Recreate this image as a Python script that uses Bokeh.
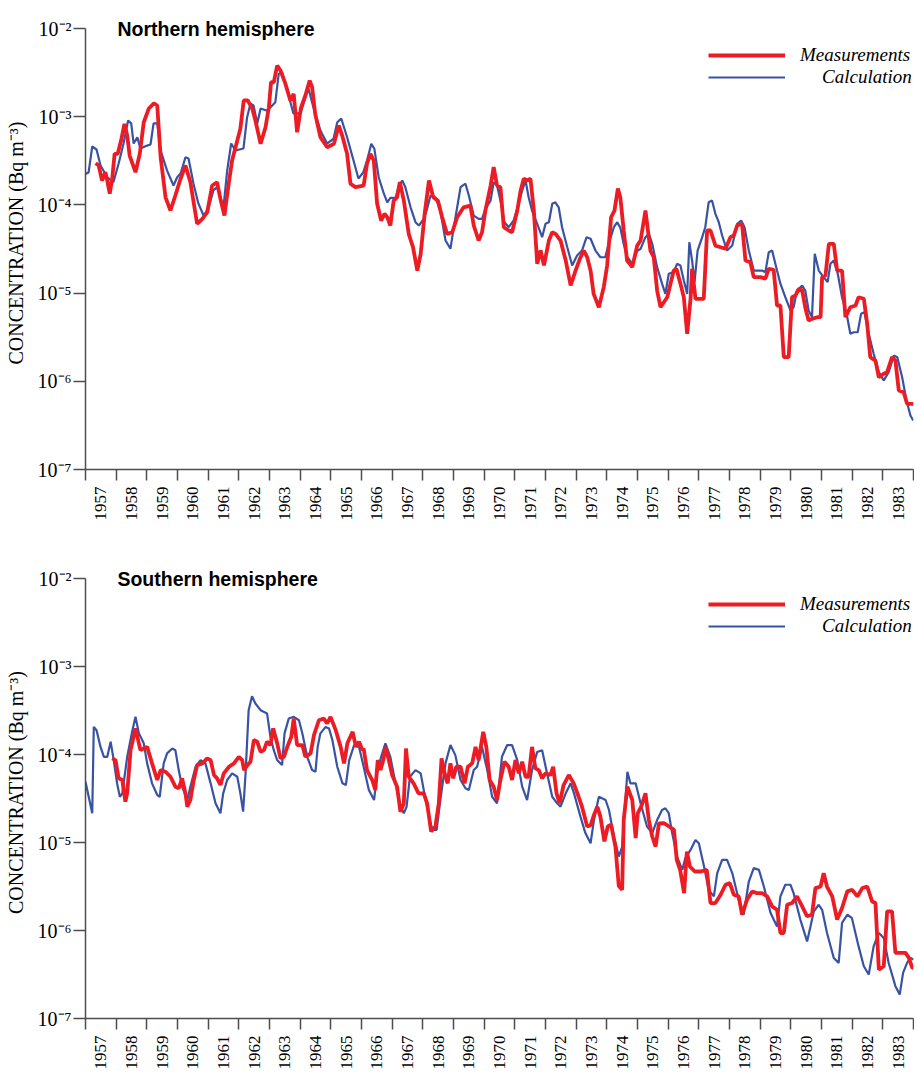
import math
from bokeh.plotting import figure
from bokeh.models import Range1d, FixedTicker, Label, Legend, LegendItem
from bokeh.layouts import column
from bokeh.embed import file_html
from bokeh.resources import INLINE

# ---------------- data ----------------
year_labels = ["1957", "1958", "1959", "1960", "1961", "1962", "1963", "1964", "1965",
               "1966", "1967", "1968", "1969", "1970", "1971", "1972", "1973", "1974",
               "1975", "1976", "1977", "1978", "1979", "1980", "1981", "1982", "1983"]
decade_ticks = [1e-7, 1e-6, 1e-5, 1e-4, 1e-3, 1e-2]
decade_labels = ["10\u207b\u2077", "10\u207b\u2076", "10\u207b\u2075", "10\u207b\u2074",
                 "10\u207b\u00b3", "10\u207b\u00b2"]

series_names = ["Measurements", "Calculation"]
panel_titles = ["Northern  hemisphere", "Southern  hemisphere"]

# Northern hemisphere - calculation
nh_calc_year = [1957.00, 1957.10, 1957.22, 1957.36, 1957.49, 1957.71, 1957.91, 1958.08, 1958.24, 1958.39,
                1958.49, 1958.57, 1958.69, 1958.79, 1959.01, 1959.12, 1959.22, 1959.34, 1959.45, 1959.66,
                1959.87, 1959.99, 1960.10, 1960.26, 1960.36, 1960.52, 1960.68, 1960.85, 1961.01, 1961.17,
                1961.29, 1961.40, 1961.50, 1961.62, 1961.75, 1961.89, 1962.15, 1962.27, 1962.38, 1962.48,
                1962.60, 1962.71, 1962.92, 1963.09, 1963.19, 1963.30, 1963.41, 1963.58, 1963.78, 1964.01,
                1964.17, 1964.27, 1964.43, 1964.66, 1964.88, 1965.09, 1965.21, 1965.34, 1965.53, 1965.74,
                1965.90, 1966.06, 1966.18, 1966.32, 1966.42, 1966.56, 1966.73, 1966.84, 1966.94, 1967.11,
                1967.22, 1967.33, 1967.43, 1967.60, 1967.76, 1967.87, 1968.03, 1968.14, 1968.25, 1968.41,
                1968.57, 1968.74, 1968.90, 1969.01, 1969.12, 1969.23, 1969.39, 1969.50, 1969.66, 1969.82,
                1969.93, 1970.04, 1970.21, 1970.31, 1970.42, 1970.53, 1970.66, 1970.80, 1970.96, 1971.08,
                1971.24, 1971.35, 1971.45, 1971.56, 1971.73, 1971.89, 1972.00, 1972.11, 1972.22, 1972.32,
                1972.43, 1972.54, 1972.71, 1972.87, 1973.03, 1973.19, 1973.34, 1973.47, 1973.63, 1973.79,
                1973.95, 1974.06, 1974.23, 1974.34, 1974.44, 1974.55, 1974.66, 1974.83, 1974.99, 1975.10,
                1975.26, 1975.37, 1975.48, 1975.64, 1975.80, 1975.91, 1976.02, 1976.18, 1976.29, 1976.40,
                1976.51, 1976.62, 1976.69, 1976.78, 1976.86, 1976.96, 1977.11, 1977.21, 1977.32, 1977.43,
                1977.54, 1977.65, 1977.76, 1977.92, 1978.09, 1978.25, 1978.38, 1978.49, 1978.63, 1978.79,
                1978.90, 1979.06, 1979.17, 1979.28, 1979.39, 1979.55, 1979.66, 1979.82, 1979.99, 1980.09,
                1980.20, 1980.37, 1980.47, 1980.58, 1980.69, 1980.78, 1980.91, 1981.07, 1981.20, 1981.29,
                1981.40, 1981.53, 1981.67, 1981.84, 1981.94, 1982.05, 1982.18, 1982.29, 1982.40, 1982.54,
                1982.70, 1982.87, 1983.03, 1983.19, 1983.36, 1983.47, 1983.63, 1983.77, 1983.90, 1983.99]
nh_calc = [2.25e-4, 2.33e-4, 4.6e-4, 4.25e-4, 2.8e-4, 2.06e-4, 1.81e-4, 2.95e-4, 4.97e-4, 9.06e-4,
           8.4e-4, 4.97e-4, 5.86e-4, 4.36e-4, 4.71e-4, 4.84e-4, 8.4e-4, 8.44e-4, 4.14e-4, 2.45e-4,
           1.66e-4, 2.06e-4, 2.27e-4, 3.47e-4, 3.36e-4, 1.75e-4, 1.04e-4, 7.58e-5, 9.1e-5, 1.46e-4,
           1.59e-4, 1.22e-4, 9.4e-5, 2.45e-4, 4.97e-4, 4.14e-4, 4.36e-4, 9.87e-4, 1.41e-3, 1.34e-3,
           8.4e-4, 1.24e-3, 1.17e-3, 1.34e-3, 1.46e-3, 3.06e-3, 3.2e-3, 1.98e-3, 1.09e-3, 1.09e-3,
           1.66e-3, 2.09e-3, 1.28e-3, 6.98e-4, 4.97e-4, 5.66e-4, 8.67e-4, 9.54e-4, 5.86e-4, 3.19e-4,
           1.99e-4, 2.35e-4, 3.19e-4, 4.93e-4, 4.33e-4, 2.06e-4, 1.34e-4, 1.07e-4, 1.2e-4, 1.2e-4,
           1.66e-4, 1.89e-4, 1.59e-4, 9.4e-5, 6.37e-5, 5.84e-5, 6.96e-5, 9.03e-5, 1.28e-4, 1.22e-4,
           8.64e-5, 3.95e-5, 3.18e-5, 5.59e-5, 9.4e-5, 1.59e-4, 1.74e-4, 1.28e-4, 7.58e-5, 6.96e-5,
           6.96e-5, 9.03e-5, 1.12e-4, 1.81e-4, 1.66e-4, 1.12e-4, 6.37e-5, 5.59e-5, 6.65e-5, 9.03e-5,
           1.46e-4, 1.89e-4, 1.22e-4, 8.64e-5, 6.11e-5, 4.31e-5, 6.11e-5, 6.37e-5, 1.03e-4, 1.07e-4,
           9.4e-5, 5.59e-5, 3.31e-5, 2.06e-5, 2.67e-5, 3.04e-5, 4.31e-5, 4.13e-5, 3.04e-5, 2.55e-5,
           2.55e-5, 3.62e-5, 5.59e-5, 6.37e-5, 5.5e-5, 3.6e-5, 2.6e-5, 2.15e-5, 3.0e-5, 3.18e-5,
           4.31e-5, 4.7e-5, 3.62e-5, 1.97e-5, 1.28e-5, 9.8e-6, 1.66e-5, 1.73e-5, 2.15e-5, 2.06e-5,
           1.39e-5, 9.8e-6, 3.78e-5, 2.34e-5, 1.33e-5, 3.04e-5, 4.31e-5, 5.59e-5, 1.07e-4, 1.12e-4,
           7.93e-5, 6.37e-5, 4.5e-5, 3.04e-5, 3.46e-5, 6.11e-5, 6.65e-5, 5.59e-5, 3.04e-5, 1.8e-5,
           1.8e-5, 1.8e-5, 1.73e-5, 2.91e-5, 3.04e-5, 1.8e-5, 1.28e-5, 8.99e-6, 6.35e-6, 6.92e-6,
           1.07e-5, 1.22e-5, 1.07e-5, 6.35e-6, 5.33e-6, 2.79e-5, 1.8e-5, 1.52e-5, 1.33e-5, 2.15e-5,
           2.34e-5, 1.66e-5, 8.99e-6, 5.33e-6, 3.46e-6, 3.6e-6, 3.6e-6, 5.82e-6, 6.07e-6, 3.46e-6,
           2.05e-6, 1.27e-6, 1.02e-6, 1.27e-6, 1.96e-6, 1.88e-6, 1.11e-6, 6.06e-7, 4.1e-7, 3.59e-7]

# Northern hemisphere - measurements
nh_meas_year = [1957.33, 1957.43, 1957.54, 1957.65, 1957.71, 1957.79, 1957.87, 1957.95, 1958.05, 1958.16,
                1958.27, 1958.36, 1958.44, 1958.63, 1958.77, 1958.90, 1959.06, 1959.23, 1959.34, 1959.45,
                1959.61, 1959.77, 1959.93, 1960.10, 1960.26, 1960.42, 1960.64, 1960.81, 1960.97, 1961.13,
                1961.29, 1961.40, 1961.53, 1961.67, 1961.78, 1961.95, 1962.05, 1962.16, 1962.29, 1962.44,
                1962.54, 1962.71, 1962.87, 1962.98, 1963.05, 1963.14, 1963.25, 1963.36, 1963.52, 1963.68,
                1963.79, 1963.90, 1964.03, 1964.17, 1964.31, 1964.39, 1964.49, 1964.66, 1964.88, 1965.10,
                1965.26, 1965.37, 1965.53, 1965.64, 1965.80, 1966.07, 1966.18, 1966.29, 1966.40, 1966.51,
                1966.64, 1966.75, 1966.84, 1966.94, 1967.05, 1967.16, 1967.25, 1967.38, 1967.54, 1967.68,
                1967.82, 1967.93, 1968.06, 1968.20, 1968.34, 1968.49, 1968.63, 1968.79, 1968.96, 1969.12,
                1969.33, 1969.55, 1969.66, 1969.82, 1969.93, 1970.04, 1970.21, 1970.31, 1970.42, 1970.53,
                1970.64, 1970.80, 1970.91, 1971.08, 1971.19, 1971.29, 1971.40, 1971.51, 1971.62, 1971.73,
                1971.84, 1971.95, 1972.11, 1972.22, 1972.33, 1972.49, 1972.66, 1972.82, 1972.98, 1973.12,
                1973.25, 1973.36, 1973.47, 1973.57, 1973.74, 1973.90, 1974.01, 1974.14, 1974.25, 1974.36,
                1974.44, 1974.55, 1974.66, 1974.83, 1974.99, 1975.10, 1975.26, 1975.42, 1975.53, 1975.64,
                1975.75, 1975.97, 1976.18, 1976.27, 1976.40, 1976.51, 1976.62, 1976.73, 1976.78, 1976.89,
                1977.00, 1977.16, 1977.27, 1977.38, 1977.54, 1977.71, 1977.87, 1978.03, 1978.14, 1978.25,
                1978.41, 1978.52, 1978.68, 1978.79, 1979.01, 1979.17, 1979.28, 1979.44, 1979.55, 1979.66,
                1979.77, 1979.93, 1980.04, 1980.15, 1980.26, 1980.37, 1980.48, 1980.58, 1980.69, 1980.86,
                1980.97, 1981.02, 1981.13, 1981.24, 1981.40, 1981.51, 1981.67, 1981.78, 1981.94, 1982.11,
                1982.21, 1982.38, 1982.49, 1982.59, 1982.76, 1982.87, 1983.03, 1983.14, 1983.30, 1983.41,
                1983.52, 1983.68, 1983.79, 1984.00]
nh_meas = [2.97e-4, 2.8e-4, 1.89e-4, 2.35e-4, 1.89e-4, 1.34e-4, 1.98e-4, 3.8e-4, 3.8e-4, 5.37e-4,
           8.31e-4, 6.12e-4, 3.63e-4, 2.35e-4, 3.8e-4, 8.66e-4, 1.23e-3, 1.42e-3, 1.34e-3, 3.48e-4,
           1.22e-4, 8.64e-5, 1.28e-4, 1.98e-4, 2.8e-4, 1.81e-4, 6.11e-5, 6.96e-5, 8.27e-5, 1.66e-4,
           1.81e-4, 1.17e-4, 7.58e-5, 1.74e-4, 3.19e-4, 5.37e-4, 7.29e-4, 1.53e-3, 1.53e-3, 1.23e-3,
           9.06e-4, 4.93e-4, 7.6e-4, 1.28e-3, 2.46e-3, 2.46e-3, 3.81e-3, 3.34e-3, 2.36e-3, 1.53e-3,
           1.82e-3, 6.67e-4, 1.28e-3, 1.74e-3, 2.57e-3, 2.16e-3, 1.08e-3, 5.86e-4, 4.51e-4, 4.93e-4,
           7.95e-4, 6.12e-4, 3.8e-4, 1.74e-4, 1.59e-4, 1.66e-4, 2.93e-4, 3.8e-4, 3.19e-4, 1.03e-4,
           6.65e-5, 7.93e-5, 7.26e-5, 5.84e-5, 1.12e-4, 1.22e-4, 1.81e-4, 1.12e-4, 4.7e-5, 3.31e-5,
           1.8e-5, 2.79e-5, 7.93e-5, 1.89e-4, 1.22e-4, 1.12e-4, 7.26e-5, 4.7e-5, 4.9e-5, 7.26e-5,
           9.4e-5, 9.84e-5, 5.84e-5, 3.95e-5, 4.9e-5, 8.64e-5, 1.66e-4, 2.68e-4, 1.66e-4, 1.59e-4,
           5.59e-5, 5.13e-5, 4.9e-5, 8.64e-5, 1.46e-4, 1.98e-4, 1.89e-4, 1.98e-4, 8.64e-5, 2.15e-5,
           3.04e-5, 2.06e-5, 3.95e-5, 4.9e-5, 4.7e-5, 3.95e-5, 2.34e-5, 1.22e-5, 1.8e-5, 2.45e-5,
           3.04e-5, 2.55e-5, 1.8e-5, 9.8e-6, 6.92e-6, 1.17e-5, 2.06e-5, 7.26e-5, 8.64e-5, 1.53e-4,
           1.22e-4, 5.13e-5, 2.34e-5, 1.97e-5, 3.46e-5, 3.95e-5, 8.64e-5, 3.04e-5, 2.55e-5, 1.07e-5,
           6.92e-6, 8.99e-6, 1.8e-5, 1.89e-5, 1.28e-5, 8.99e-6, 3.46e-6, 8.62e-6, 1.89e-5, 8.62e-6,
           8.62e-6, 8.62e-6, 5.13e-5, 5.13e-5, 3.46e-5, 3.31e-5, 3.18e-5, 4.31e-5, 4.5e-5, 5.84e-5,
           6.11e-5, 2.34e-5, 2.25e-5, 1.52e-5, 1.52e-5, 1.46e-5, 1.89e-5, 1.84e-5, 7.24e-6, 7.24e-6,
           1.88e-6, 1.88e-6, 8.99e-6, 9.39e-6, 1.12e-5, 1.07e-5, 6.64e-6, 4.89e-6, 5.11e-6, 5.33e-6,
           5.33e-6, 1.52e-5, 1.59e-5, 3.62e-5, 3.62e-5, 1.8e-5, 1.8e-5, 5.33e-6, 6.92e-6, 7.24e-6,
           8.99e-6, 8.62e-6, 4.49e-6, 1.88e-6, 1.72e-6, 1.11e-6, 1.22e-6, 1.27e-6, 1.88e-6, 1.72e-6,
           7.87e-7, 7.52e-7, 5.56e-7, 5.56e-7]

# Southern hemisphere - calculation
sh_calc_year = [1957.00, 1957.22, 1957.27, 1957.36, 1957.49, 1957.60, 1957.71, 1957.82, 1957.92, 1958.03,
                1958.12, 1958.20, 1958.36, 1958.52, 1958.63, 1958.74, 1958.90, 1959.01, 1959.17, 1959.34,
                1959.42, 1959.55, 1959.66, 1959.83, 1959.93, 1960.04, 1960.15, 1960.32, 1960.42, 1960.59,
                1960.75, 1960.91, 1961.08, 1961.24, 1961.40, 1961.49, 1961.62, 1961.78, 1961.95, 1962.05,
                1962.14, 1962.22, 1962.32, 1962.43, 1962.54, 1962.71, 1962.92, 1963.03, 1963.14, 1963.25,
                1963.41, 1963.49, 1963.63, 1963.79, 1963.96, 1964.07, 1964.23, 1964.39, 1964.50, 1964.57,
                1964.66, 1964.83, 1964.94, 1965.05, 1965.21, 1965.38, 1965.49, 1965.60, 1965.76, 1965.92,
                1966.07, 1966.24, 1966.41, 1966.51, 1966.64, 1966.78, 1966.94, 1967.11, 1967.27, 1967.38,
                1967.47, 1967.58, 1967.76, 1967.93, 1968.03, 1968.20, 1968.31, 1968.45, 1968.57, 1968.74,
                1968.90, 1969.06, 1969.23, 1969.39, 1969.50, 1969.66, 1969.77, 1969.93, 1970.10, 1970.26,
                1970.42, 1970.58, 1970.75, 1970.91, 1971.08, 1971.24, 1971.40, 1971.56, 1971.73, 1971.89,
                1972.05, 1972.22, 1972.38, 1972.49, 1972.66, 1972.82, 1972.93, 1973.14, 1973.30, 1973.47,
                1973.58, 1973.74, 1973.96, 1974.07, 1974.23, 1974.39, 1974.50, 1974.67, 1974.77, 1974.94,
                1975.10, 1975.31, 1975.48, 1975.64, 1975.80, 1975.91, 1976.02, 1976.13, 1976.29, 1976.46,
                1976.56, 1976.73, 1976.89, 1977.00, 1977.17, 1977.32, 1977.49, 1977.60, 1977.76, 1977.92,
                1978.09, 1978.30, 1978.46, 1978.63, 1978.79, 1978.96, 1979.12, 1979.34, 1979.55, 1979.66,
                1979.82, 1979.99, 1980.09, 1980.31, 1980.53, 1980.64, 1980.75, 1980.91, 1981.02, 1981.18,
                1981.40, 1981.56, 1981.67, 1981.84, 1981.99, 1982.21, 1982.38, 1982.54, 1982.70, 1982.87,
                1983.03, 1983.19, 1983.41, 1983.55, 1983.66, 1983.79, 1983.90, 1984.00]
sh_calc = [4.9e-5, 2.15e-5, 2.06e-4, 1.89e-4, 1.22e-4, 9.42e-5, 9.42e-5, 1.4e-4, 8.64e-5, 4.7e-5,
           3.31e-5, 3.62e-5, 9.42e-5, 1.81e-4, 2.68e-4, 1.74e-4, 1.34e-4, 7.93e-5, 4.7e-5, 3.46e-5,
           3.31e-5, 7.93e-5, 1.03e-4, 1.17e-4, 1.12e-4, 6.65e-5, 4.31e-5, 3.04e-5, 4.31e-5, 7.26e-5,
           8.64e-5, 7.93e-5, 4.7e-5, 2.79e-5, 2.15e-5, 3.62e-5, 5.13e-5, 6.11e-5, 5.59e-5, 3.62e-5,
           2.24e-5, 6.11e-5, 3.19e-4, 4.59e-4, 3.8e-4, 3.19e-4, 2.93e-4, 1.59e-4, 1.12e-4, 8.64e-5,
           7.58e-5, 1.74e-4, 2.57e-4, 2.68e-4, 2.45e-4, 1.74e-4, 9.42e-5, 6.65e-5, 6.37e-5, 1.22e-4,
           1.74e-4, 2.06e-4, 1.98e-4, 1.46e-4, 7.26e-5, 4.7e-5, 4.5e-5, 8.64e-5, 1.28e-4, 1.22e-4,
           7.26e-5, 3.95e-5, 3.04e-5, 6.11e-5, 9.42e-5, 1.34e-4, 9.42e-5, 4.7e-5, 2.55e-5, 2.15e-5,
           2.55e-5, 5.59e-5, 6.65e-5, 6.11e-5, 3.95e-5, 1.97e-5, 1.39e-5, 1.39e-5, 3.04e-5, 7.93e-5,
           1.28e-4, 9.84e-5, 5.13e-5, 4.13e-5, 3.95e-5, 6.65e-5, 7.26e-5, 1.22e-4, 6.65e-5, 3.31e-5,
           2.79e-5, 9.42e-5, 1.28e-4, 1.28e-4, 8.64e-5, 4.31e-5, 3.04e-5, 6.65e-5, 1.07e-4, 1.12e-4,
           6.11e-5, 3.31e-5, 2.79e-5, 2.55e-5, 3.62e-5, 4.7e-5, 3.62e-5, 1.97e-5, 1.28e-5, 9.8e-6,
           1.8e-5, 3.31e-5, 3.04e-5, 2.34e-5, 1.17e-5, 6.92e-6, 8.99e-6, 6.37e-5, 4.7e-5, 4.7e-5,
           2.79e-5, 1.52e-5, 1.28e-5, 1.8e-5, 2.34e-5, 2.45e-5, 2.15e-5, 1.28e-5, 6.92e-6, 4.89e-6,
           6.64e-6, 8.24e-6, 1.07e-5, 9.8e-6, 5.33e-6, 2.9e-6, 2.44e-6, 4.49e-6, 6.35e-6, 6.35e-6,
           4.49e-6, 2.23e-6, 1.51e-6, 3.6e-6, 5.11e-6, 4.89e-6, 3.16e-6, 1.58e-6, 1.11e-6, 2.44e-6,
           3.31e-6, 3.31e-6, 2.66e-6, 1.33e-6, 7.52e-7, 1.11e-6, 1.65e-6, 1.96e-6, 1.72e-6, 9.37e-7,
           4.88e-7, 4.28e-7, 1.22e-6, 1.51e-6, 1.39e-6, 6.6e-7, 3.92e-7, 3.16e-7, 6.6e-7, 9.37e-7,
           8.22e-7, 4.28e-7, 2.33e-7, 1.87e-7, 3.3e-7, 4.28e-7, 4.88e-7, 4.67e-7]

# Southern hemisphere - measurements
sh_meas_year = [1957.87, 1957.98, 1958.08, 1958.20, 1958.30, 1958.36, 1958.47, 1958.63, 1958.79, 1958.90,
                1959.01, 1959.17, 1959.34, 1959.45, 1959.61, 1959.77, 1959.93, 1960.04, 1960.15, 1960.26,
                1960.32, 1960.42, 1960.53, 1960.64, 1960.81, 1960.97, 1961.08, 1961.19, 1961.29, 1961.40,
                1961.51, 1961.68, 1961.84, 1962.00, 1962.11, 1962.17, 1962.28, 1962.38, 1962.49, 1962.60,
                1962.71, 1962.82, 1962.92, 1963.03, 1963.12, 1963.25, 1963.36, 1963.47, 1963.58, 1963.71,
                1963.79, 1963.90, 1964.07, 1964.17, 1964.34, 1964.45, 1964.61, 1964.77, 1964.88, 1964.99,
                1965.16, 1965.32, 1965.43, 1965.54, 1965.71, 1965.82, 1965.92, 1966.03, 1966.07, 1966.18,
                1966.35, 1966.45, 1966.53, 1966.62, 1966.71, 1966.78, 1966.89, 1967.00, 1967.16, 1967.27,
                1967.38, 1967.45, 1967.54, 1967.70, 1967.86, 1968.03, 1968.14, 1968.27, 1968.41, 1968.52,
                1968.61, 1968.71, 1968.81, 1968.90, 1968.99, 1969.09, 1969.23, 1969.36, 1969.47, 1969.61,
                1969.72, 1969.82, 1969.97, 1970.07, 1970.18, 1970.31, 1970.42, 1970.53, 1970.66, 1970.80,
                1970.91, 1971.02, 1971.13, 1971.24, 1971.35, 1971.45, 1971.56, 1971.67, 1971.78, 1971.89,
                1972.00, 1972.16, 1972.25, 1972.36, 1972.46, 1972.59, 1972.76, 1972.92, 1973.08, 1973.19,
                1973.36, 1973.47, 1973.58, 1973.69, 1973.79, 1973.92, 1974.03, 1974.14, 1974.28, 1974.39,
                1974.50, 1974.55, 1974.67, 1974.83, 1974.94, 1975.01, 1975.12, 1975.26, 1975.37, 1975.48,
                1975.59, 1975.70, 1975.86, 1976.03, 1976.19, 1976.28, 1976.39, 1976.52, 1976.61, 1976.71,
                1976.87, 1977.06, 1977.26, 1977.38, 1977.54, 1977.71, 1977.87, 1978.01, 1978.14, 1978.30,
                1978.41, 1978.57, 1978.74, 1978.90, 1979.06, 1979.23, 1979.39, 1979.55, 1979.66, 1979.77,
                1979.88, 1980.04, 1980.20, 1980.37, 1980.53, 1980.69, 1980.80, 1980.97, 1981.07, 1981.18,
                1981.35, 1981.51, 1981.67, 1981.84, 1982.00, 1982.17, 1982.33, 1982.49, 1982.65, 1982.76,
                1982.87, 1983.03, 1983.14, 1983.30, 1983.41, 1983.58, 1983.74, 1983.85, 1983.96, 1984.00]
sh_meas = [9.03e-5, 8.64e-5, 5.36e-5, 5.13e-5, 2.91e-5, 3.62e-5, 1.12e-4, 1.98e-4, 1.12e-4, 1.17e-4,
           1.22e-4, 7.93e-5, 5.13e-5, 6.65e-5, 6.37e-5, 5.59e-5, 4.31e-5, 4.13e-5, 5.36e-5, 3.62e-5,
           2.55e-5, 3.04e-5, 5.13e-5, 7.58e-5, 7.93e-5, 9.03e-5, 8.64e-5, 5.84e-5, 5.36e-5, 4.5e-5,
           6.11e-5, 7.26e-5, 7.93e-5, 9.42e-5, 8.64e-5, 6.65e-5, 7.58e-5, 8.27e-5, 1.46e-4, 1.4e-4,
           1.07e-4, 1.12e-4, 1.4e-4, 1.28e-4, 1.98e-4, 1.34e-4, 9.03e-5, 9.42e-5, 1.22e-4, 1.59e-4,
           2.57e-4, 1.28e-4, 1.28e-4, 9.42e-5, 1.03e-4, 1.66e-4, 2.45e-4, 2.57e-4, 2.25e-4, 2.68e-4,
           1.89e-4, 1.22e-4, 7.93e-5, 1.34e-4, 1.81e-4, 1.22e-4, 1.4e-4, 1.12e-4, 1.17e-4, 6.65e-5,
           5.13e-5, 3.95e-5, 8.64e-5, 6.65e-5, 8.64e-5, 1.22e-4, 8.64e-5, 5.84e-5, 4.31e-5, 2.24e-5,
           2.79e-5, 1.17e-4, 5.59e-5, 4.7e-5, 3.62e-5, 3.62e-5, 2.79e-5, 1.33e-5, 1.52e-5, 2.79e-5,
           9.03e-5, 6.11e-5, 4.7e-5, 7.93e-5, 5.36e-5, 7.26e-5, 7.26e-5, 4.7e-5, 7.26e-5, 7.93e-5,
           1.22e-4, 8.64e-5, 1.81e-4, 1.22e-4, 5.13e-5, 4.31e-5, 3.04e-5, 5.13e-5, 8.27e-5, 7.26e-5,
           5.13e-5, 8.64e-5, 6.11e-5, 8.27e-5, 5.59e-5, 5.59e-5, 1.22e-4, 6.96e-5, 6.65e-5, 5.36e-5,
           6.11e-5, 5.84e-5, 7.26e-5, 3.62e-5, 2.79e-5, 4.5e-5, 5.84e-5, 4.7e-5, 3.31e-5, 2.55e-5,
           1.52e-5, 1.57e-5, 2.06e-5, 2.55e-5, 1.97e-5, 1.03e-5, 1.52e-5, 1.59e-5, 8.99e-6, 3.2e-6,
           2.9e-6, 1.8e-5, 4.31e-5, 3.04e-5, 1.12e-5, 2.15e-5, 2.55e-5, 3.62e-5, 1.8e-5, 1.17e-5,
           8.99e-6, 1.65e-5, 1.66e-5, 1.52e-5, 1.39e-5, 6.35e-6, 4.89e-6, 2.66e-6, 7.89e-6, 5.33e-6,
           4.68e-6, 4.68e-6, 4.89e-6, 2.05e-6, 2.05e-6, 2.55e-6, 3.31e-6, 3.46e-6, 2.55e-6, 2.44e-6,
           1.51e-6, 2.23e-6, 2.78e-6, 2.66e-6, 2.66e-6, 2.44e-6, 1.88e-6, 1.72e-6, 9.37e-7, 9.37e-7,
           1.96e-6, 2.05e-6, 2.44e-6, 1.88e-6, 1.45e-6, 1.51e-6, 3.03e-6, 3.16e-6, 4.49e-6, 3.16e-6,
           2.44e-6, 1.33e-6, 1.8e-6, 2.78e-6, 2.9e-6, 2.44e-6, 3.03e-6, 3.16e-6, 2.14e-6, 2.05e-6,
           3.59e-7, 3.92e-7, 1.65e-6, 1.65e-6, 5.56e-7, 5.56e-7, 5.56e-7, 4.88e-7, 3.76e-7, 3.76e-7]

# ---------------- styling ----------------
RED = "#ED1C24"
BLUE = "#3953A4"
AXIS = "#4d4d4d"
SERIF = "Liberation Serif"
SANS = "Liberation Sans"

years = [int(s) for s in year_labels]
x_start, x_end = years[0], years[-1] + 1
Y_TOP = 10 ** -1.75   # a little head-room above 10^-2 for the panel title


def make_panel(title, calc_x, calc_y, meas_x, meas_y, height, border_top, border_bottom):
    p = figure(width=914, height=height,
               x_range=Range1d(x_start, x_end), y_range=Range1d(decade_ticks[0], Y_TOP),
               y_axis_type="log", output_backend="svg", toolbar_location=None,
               min_border_left=85, min_border_right=1,
               min_border_top=border_top, min_border_bottom=border_bottom)
    p.outline_line_color = None
    p.xgrid.visible = False
    p.ygrid.visible = False
    p.background_fill_color = "white"
    p.border_fill_color = "white"

    calc_r = p.line(calc_x, calc_y, line_color=BLUE, line_width=2.2)
    meas_r = p.line(meas_x, meas_y, line_color=RED, line_width=3.8)

    # x axis: ticks at year boundaries, labels in the middle of each year
    xa = p.xaxis[0]
    xa.ticker = FixedTicker(ticks=[y + 0.5 for y in years],
                            minor_ticks=years + [x_end])
    xa.major_label_overrides = {y + 0.5: lab for y, lab in zip(years, year_labels)}
    xa.major_tick_line_color = None
    xa.major_tick_out = 11
    xa.major_tick_in = 0
    xa.minor_tick_line_color = AXIS
    xa.minor_tick_line_width = 1.5
    xa.minor_tick_out = 11
    xa.minor_tick_in = 0
    xa.axis_line_color = AXIS
    xa.axis_line_width = 1.5
    xa.major_label_orientation = math.pi / 2
    xa.major_label_standoff = 6
    xa.major_label_text_font = SERIF
    xa.major_label_text_font_size = "17px"
    xa.major_label_text_color = "black"

    ya = p.yaxis[0]
    ya.bounds = (decade_ticks[0], decade_ticks[-1])
    ya.ticker = FixedTicker(ticks=decade_ticks)
    ya.major_label_overrides = {t: lab for t, lab in zip(decade_ticks, decade_labels)}
    ya.major_tick_line_color = AXIS
    ya.major_tick_line_width = 1.5
    ya.major_tick_out = 12
    ya.major_tick_in = 0
    ya.minor_tick_line_color = None
    ya.axis_line_color = AXIS
    ya.axis_line_width = 1.5
    ya.major_label_standoff = 2
    ya.major_label_text_font = SERIF
    ya.major_label_text_font_size = "20px"
    ya.major_label_text_color = "black"
    ya.axis_label = "CONCENTRATION  (Bq  m\u207b\u00b3)"
    ya.axis_label_text_font = SERIF
    ya.axis_label_text_font_style = "normal"
    ya.axis_label_text_font_size = "20px"
    ya.axis_label_text_color = "black"
    ya.axis_label_standoff = 8

    p.add_layout(Label(x=x_start + 1.04, y=decade_ticks[-1], text=title,
                       text_font=SANS, text_font_style="bold", text_font_size="19.5px",
                       text_baseline="middle", text_align="left", text_color="black"))

    leg_common = dict(glyph_width=77, glyph_height=22, label_height=22, padding=0, margin=0,
                      border_line_color=None, background_fill_alpha=0,
                      label_text_font=SERIF, label_text_font_style="italic",
                      label_text_font_size="19px", label_text_color="black")
    leg1 = Legend(items=[LegendItem(label=series_names[0], renderers=[meas_r])],
                  location=(623, 403), label_standoff=15, **leg_common)
    leg2 = Legend(items=[LegendItem(label=series_names[1], renderers=[calc_r])],
                  location=(623, 381), label_standoff=37, **leg_common)
    p.add_layout(leg1)
    p.add_layout(leg2)
    return p


p1 = make_panel(panel_titles[0], nh_calc_year, nh_calc, nh_meas_year, nh_meas,
                height=548, border_top=6, border_bottom=79)
p2 = make_panel(panel_titles[1], sh_calc_year, sh_calc, sh_meas_year, sh_meas,
                height=524, border_top=8, border_bottom=53)

layout = column(p1, p2)
open("out.html", "w").write(file_html(layout, INLINE))
